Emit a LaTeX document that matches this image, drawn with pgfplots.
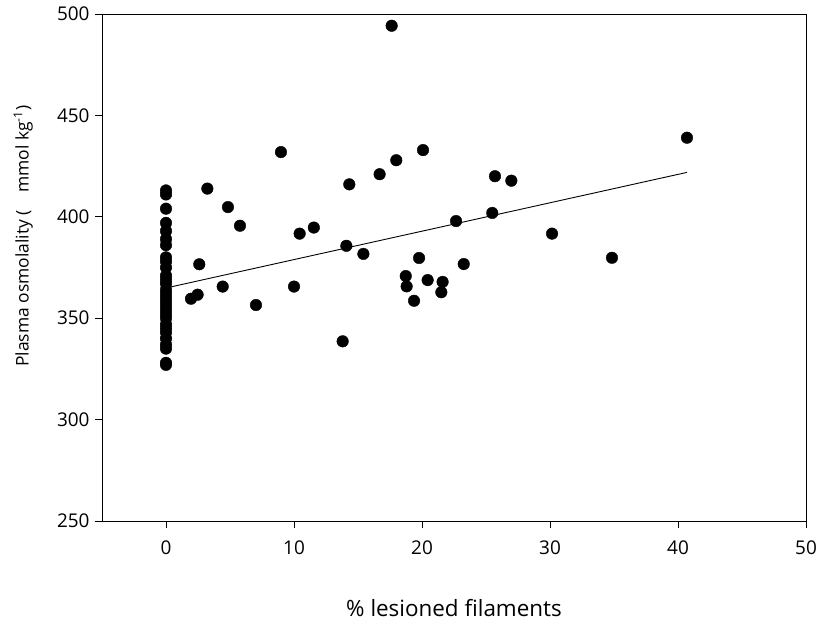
\documentclass[border=0pt]{standalone}
\usepackage{fontspec}
\setmainfont{Open Sans}
\usepackage{pgfplots}
\pgfplotsset{compat=1.18}
\usetikzlibrary{calc}

\begin{document}
\begin{tikzpicture}
\begin{axis}[
  scale only axis,
  width=704bp, height=507bp,
  xmin=-5, xmax=50,
  ymin=250, ymax=500,
  xtick={0,10,20,30,40,50},
  ytick={250,300,350,400,450,500},
  xtick pos=bottom, ytick pos=left,
  tick align=outside,
  major tick length=7bp,
  axis line style={line width=0.9bp},
  every tick/.style={black, line width=0.9bp},
  /pgf/number format/assume math mode=true,
  tick label style={font=\fontsize{19}{22}\selectfont},
  xticklabel style={yshift=-9bp},
  yticklabel style={xshift=-2bp},
  xlabel={\% lesioned filaments},
  xlabel style={font=\fontsize{22.5}{26}\selectfont, at={(axis description cs:0.5,-0.189)}, anchor=base},
  ylabel={Plasma osmolality (\hspace{1em}mmol kg\textsuperscript{-1})},
  ylabel style={font=\fontsize{17.5}{21}\selectfont, at={(axis description cs:-0.112,0.562)}, anchor=center},
  clip=false,
]
% x = 0 group
\addplot[only marks, mark=*, mark size=5.8bp, black] coordinates {
  (0,413) (0,411) (0,404) (0,397) (0,393) (0,389) (0,386) (0,380) (0,378)
  (0,375) (0,371) (0,369) (0,367) (0,364) (0,362) (0,360) (0,358) (0,356)
  (0,354) (0,352) (0,350) (0,347) (0,345) (0,343) (0,340) (0,337) (0,335)
  (0,328) (0,327)
};
% lesioned fish
\addplot[only marks, mark=*, mark size=5.8bp, black] coordinates {
  (1.95,359.6) (2.47,361.6) (2.60,376.6) (3.23,413.9) (4.43,365.6)
  (4.84,404.8) (5.78,395.6) (7.03,356.5) (8.98,431.9) (10.0,365.6)
  (10.44,391.7) (11.55,394.7) (13.80,338.6) (14.09,385.7) (14.32,416.0)
  (15.42,381.7) (16.69,421.0) (17.63,494.2) (17.99,427.9) (18.73,370.8)
  (18.80,365.7) (19.38,358.6) (19.77,379.7) (20.08,432.9) (20.44,368.8)
  (21.51,362.8) (21.61,367.9) (22.66,397.9) (23.26,376.7) (25.49,401.9)
  (25.70,420.0) (26.98,417.8) (30.16,391.7) (34.84,379.8) (40.7,439.0)
};
% regression line
\addplot[black, line width=0.9bp] coordinates {(0,364.9) (40.7,421.9)};
\coordinate (sw) at (rel axis cs:0,0);
\coordinate (ne) at (rel axis cs:1,1);
\end{axis}
\pgfresetboundingbox
\path[use as bounding box] ($(sw)+(-102bp,-101bp)$) rectangle ($(ne)+(15bp,14bp)$);
\end{tikzpicture}
\end{document}
